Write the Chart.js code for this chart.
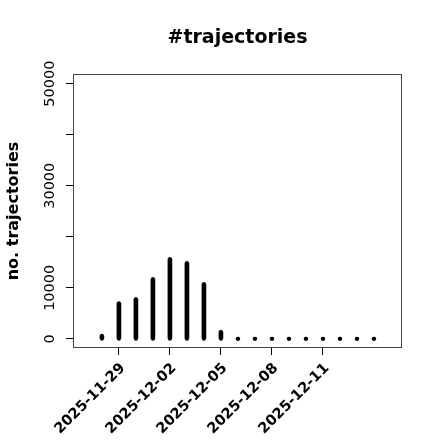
<!DOCTYPE html>
<html>
<head>
<meta charset="utf-8">
<script src="https://cdn.jsdelivr.net/npm/chart.js@4"></script>
<style>
  html, body { margin: 0; padding: 0; background: #fff; }
</style>
</head>
<body>
<canvas id="chart" width="440" height="440"></canvas>
<script>
// -- Data --------------------------------------------------------------------
const dates = ['2025-11-28', '2025-11-29', '2025-11-30', '2025-12-01', '2025-12-02', '2025-12-03',
    '2025-12-04', '2025-12-05', '2025-12-06', '2025-12-07', '2025-12-08', '2025-12-09',
    '2025-12-10', '2025-12-11', '2025-12-12', '2025-12-13', '2025-12-14'];
const counts = [590, 6990, 7780, 11710, 15640, 14850, 10730, 1375, 0, 0, 0, 0, 0, 0, 0, 0, 0];

const xTickDates = ['2025-11-29', '2025-12-02', '2025-12-05', '2025-12-08', '2025-12-11'];
const yTicks = [0, 10000, 20000, 30000, 40000, 50000];
const yTickLabels = ['0', '10000', '', '30000', '', '50000'];

const FONT = "'DejaVu Sans', sans-serif";

// points from the data (bars go from 0 up to the value)
const topPoints = counts.map((c, i) => ({ x: i, y: c }));
const basePoints = counts.map((c, i) => ({ x: i, y: 0 }));

// -- Plugin: title, rotated tick labels, box ---------------------------------
const rStyle = {
    id: 'rStyle',
    afterDraw(chart) {
        const { ctx, chartArea } = chart;
        const xScale = chart.scales.x;
        const yScale = chart.scales.y;
        ctx.save();

        // box round the plot
        ctx.strokeStyle = '#444';
        ctx.lineWidth = 1;
        ctx.strokeRect(chartArea.left + 0.5, chartArea.top + 0.5,
            chartArea.right - chartArea.left - 1, chartArea.bottom - chartArea.top - 1);

        // title
        ctx.fillStyle = '#000';
        ctx.font = `bold 19px ${FONT}`;
        ctx.textAlign = 'center';
        ctx.textBaseline = 'middle';
        ctx.fillText('#trajectories', (chartArea.left + chartArea.right) / 2, 38);

        // y tick labels, vertical like R
        ctx.font = `14.5px ${FONT}`;
        yTicks.forEach((v, i) => {
            if (!yTickLabels[i]) return;
            ctx.save();
            ctx.translate(50, yScale.getPixelForValue(v));
            ctx.rotate(-Math.PI / 2);
            ctx.fillText(yTickLabels[i], 0, 0);
            ctx.restore();
        });

        // x tick labels at 45 degrees, text ending under the tick
        ctx.font = `bold 14.5px ${FONT}`;
        ctx.textAlign = 'right';
        ctx.textBaseline = 'middle';
        xTickDates.forEach((d) => {
            ctx.save();
            ctx.translate(xScale.getPixelForValue(dates.indexOf(d)) + 4, chartArea.bottom + 18);
            ctx.rotate(-Math.PI / 4);
            ctx.fillText(d, 0, 0);
            ctx.restore();
        });
        ctx.restore();
    }
};

// -- Chart -------------------------------------------------------------------
new Chart(document.getElementById('chart'), {
    data: {
        datasets: [
            {
                type: 'bar',
                data: topPoints,
                backgroundColor: '#000',
                barThickness: 4,
                grouped: false,
            },
            {
                type: 'scatter',
                data: topPoints,
                pointRadius: 2,
                pointBackgroundColor: '#000',
                pointBorderWidth: 0,
            },
            {
                type: 'scatter',
                data: basePoints,
                pointRadius: 2,
                pointBackgroundColor: '#000',
                pointBorderWidth: 0,
            },
        ],
    },
    options: {
        responsive: false,
        animation: false,
        devicePixelRatio: 1,
        layout: { padding: { left: 0, right: 38, top: 74, bottom: 0 } },
        plugins: {
            legend: { display: false },
            tooltip: { enabled: false },
        },
        scales: {
            x: {
                type: 'linear',
                min: -1.7,
                max: 17.65,
                offset: false,
                border: { display: false },
                grid: { offset: false, drawOnChartArea: false, drawTicks: true, tickLength: 7, color: '#000' },
                afterBuildTicks: (scale) => {
                    scale.ticks = xTickDates.map(d => ({ value: dates.indexOf(d) }));
                },
                afterFit: (scale) => { scale.height = 92; },
                ticks: { display: false },
            },
            y: {
                type: 'linear',
                min: -1800,
                max: 51900,
                border: { display: false },
                grid: { drawOnChartArea: false, drawTicks: true, tickLength: 7, color: '#000' },
                afterBuildTicks: (scale) => {
                    scale.ticks = yTicks.map(v => ({ value: v }));
                },
                afterFit: (scale) => { scale.width = 73; },
                ticks: { display: false },
                title: {
                    display: true,
                    text: 'no. trajectories',
                    color: '#000',
                    padding: { top: 4, bottom: 0 },
                    font: { family: FONT, size: 16, weight: 'bold' },
                },
            },
        },
    },
    plugins: [rStyle],
});
</script>
</body>
</html>
